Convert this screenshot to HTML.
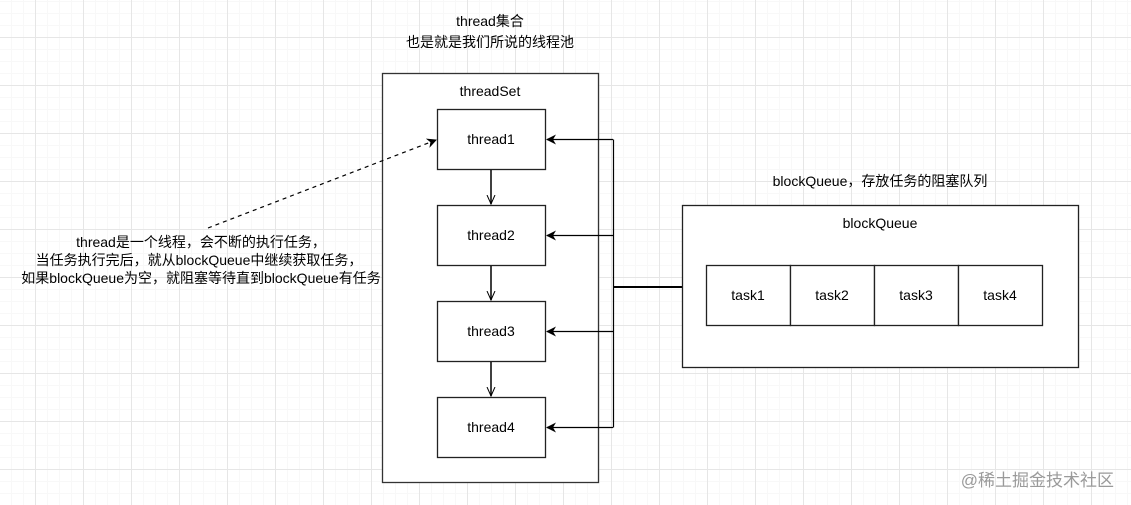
<!DOCTYPE html>
<html><head><meta charset="utf-8"><style>
body{margin:0;width:1131px;height:505px;overflow:hidden;background:#fff;
background-image:linear-gradient(#e6e6e6 1px,transparent 1px),linear-gradient(90deg,#e6e6e6 1px,transparent 1px),linear-gradient(#f8f8f8 1px,transparent 1px),linear-gradient(90deg,#f8f8f8 1px,transparent 1px);
background-size:48px 48px,48px 48px,12px 12px,12px 12px;background-position:35px 37px,35px 37px,35px 37px,35px 37px;
font-family:"Liberation Sans","Noto Sans CJK SC",sans-serif;}
</style></head><body>
<svg width="1131" height="505" style="position:absolute;left:0;top:0" font-family="Liberation Sans, Noto Sans CJK SC, sans-serif" font-size="14">
<defs>
<marker id="a" markerWidth="10" markerHeight="10" refX="9" refY="5" orient="auto" markerUnits="userSpaceOnUse"><path d="M0,0 L10,5 L0,10 L3,5z" fill="#000"/></marker>
<marker id="o" markerWidth="10" markerHeight="10" refX="9" refY="5" orient="auto" markerUnits="userSpaceOnUse"><path d="M0,1 L9,5 L0,9" fill="none" stroke="#000"/></marker>
</defs>
<text x="490" y="26" text-anchor="middle">thread集合</text>
<text x="490" y="47" text-anchor="middle">也是就是我们所说的线程池</text>
<rect x="382.5" y="73.5" width="216" height="409" fill="#fff" stroke="#333" stroke-width="1.3"/>
<text x="490" y="96" text-anchor="middle">threadSet</text>
<g fill="#fff" stroke="#222" stroke-width="1.3">
<rect x="437.5" y="109.5" width="108" height="60"/>
<rect x="437.5" y="205.5" width="108" height="60"/>
<rect x="437.5" y="301.5" width="108" height="60"/>
<rect x="437.5" y="397.5" width="108" height="60"/>
</g>
<g text-anchor="middle"><text x="491" y="144">thread1</text><text x="491" y="240">thread2</text><text x="491" y="336">thread3</text><text x="491" y="432">thread4</text></g>
<g stroke="#000" stroke-width="1.5" fill="none">
<line x1="491" y1="170" x2="491" y2="204" marker-end="url(#o)"/>
<line x1="491" y1="266" x2="491" y2="300" marker-end="url(#o)"/>
<line x1="491" y1="362" x2="491" y2="396" marker-end="url(#o)"/>
</g>
<g stroke="#000" stroke-width="1.2" fill="none">
<polyline points="613.5,139.5 613.5,427.5"/>
<line x1="613" y1="139.5" x2="547" y2="139.5" marker-end="url(#a)"/>
<line x1="613" y1="235.5" x2="547" y2="235.5" marker-end="url(#a)"/>
<line x1="613" y1="331.5" x2="547" y2="331.5" marker-end="url(#a)"/>
<line x1="613" y1="427.5" x2="547" y2="427.5" marker-end="url(#a)"/>
<line x1="613" y1="287" x2="682" y2="287" stroke-width="2"/>
<line x1="208" y1="228" x2="436" y2="140" stroke-dasharray="4,4" marker-end="url(#a)"/>
</g>
<text x="880" y="186" text-anchor="middle">blockQueue，存放任务的阻塞队列</text>
<rect x="682.5" y="205.5" width="396" height="162" fill="#fff" stroke="#222" stroke-width="1.3"/>
<text x="880" y="228" text-anchor="middle">blockQueue</text>
<g fill="#fff" stroke="#222" stroke-width="1.3">
<rect x="706.5" y="265.5" width="84" height="60"/><rect x="790.5" y="265.5" width="84" height="60"/>
<rect x="874.5" y="265.5" width="84" height="60"/><rect x="958.5" y="265.5" width="84" height="60"/>
</g>
<g text-anchor="middle"><text x="748" y="300">task1</text><text x="832" y="300">task2</text><text x="916" y="300">task3</text><text x="1000" y="300">task4</text></g>
<g text-anchor="middle"><text x="201" y="247">thread是一个线程，会不断的执行任务，</text>
<text x="199" y="265">当任务执行完后，就从blockQueue中继续获取任务，</text>
<text x="201" y="283">如果blockQueue为空，就阻塞等待直到blockQueue有任务</text></g>
<text x="1114" y="486" text-anchor="end" font-size="17" fill="#9a9a9a">@稀土掘金技术社区</text>
</svg>
</body></html>
